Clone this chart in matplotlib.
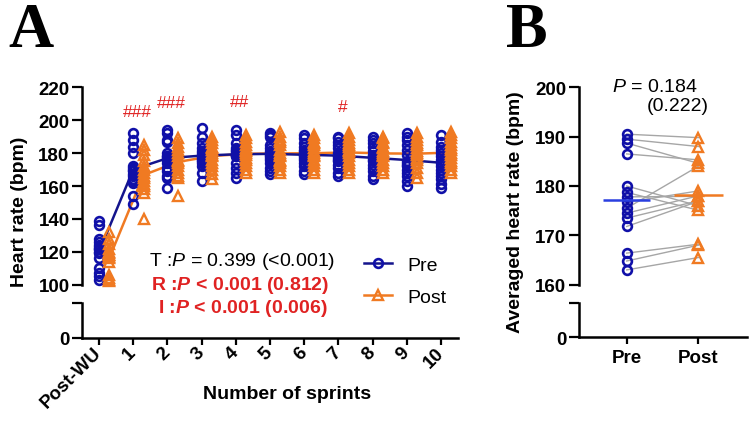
import numpy as np
import matplotlib
matplotlib.use('Agg')
import matplotlib.pyplot as plt
from matplotlib.lines import Line2D

plt.rcParams['font.family'] = ['Liberation Sans', 'DejaVu Sans']
plt.rcParams['mathtext.fontset'] = 'custom'
plt.rcParams['mathtext.it'] = 'Liberation Sans:italic'
plt.rcParams['mathtext.bf'] = 'Liberation Sans:bold'
plt.rcParams['mathtext.bfit'] = 'Liberation Sans:italic:bold'

# ---- data: panel A (heart rate per sprint, 15 participants) ----
sprint_labels = ['Post-WU', '1', '2', '3', '4', '5', '6', '7', '8', '9', '10']

pre_hr = [
    [139, 136, 128, 126, 124, 122, 123, 122, 120, 119, 116, 110, 107, 105, 103],
    [192, 188, 184, 180, 172, 171, 170, 169, 167, 166, 164, 163, 162, 154, 149],
    [194, 192, 188, 187, 180, 178, 177, 176, 178, 174, 171, 169, 166, 165, 159],
    [195, 190, 186, 183, 181, 180, 179, 178, 177, 176, 175, 174, 172, 168, 163],
    [194, 191, 186, 183, 182, 181, 180, 179, 178, 179, 178, 174, 171, 168, 165],
    [192, 191, 190, 185, 183, 181, 180, 179, 178, 177, 176, 174, 171, 169, 167],
    [191, 189, 186, 184, 182, 181, 180, 179, 178, 177, 176, 174, 172, 169, 167],
    [190, 189, 187, 185, 183, 180, 179, 178, 177, 176, 175, 173, 171, 168, 166],
    [190, 188, 186, 184, 181, 179, 178, 177, 176, 175, 173, 171, 169, 166, 164],
    [192, 190, 188, 185, 182, 179, 175, 173, 174, 172, 170, 168, 166, 163, 160],
    [191, 187, 184, 182, 180, 178, 176, 174, 172, 170, 168, 166, 164, 161, 159],
]
post_hr = [
    [132, 128, 125, 122, 120, 118, 119, 118, 117, 116, 114, 106, 104, 103, 102],
    [185, 182, 179, 175, 172, 170, 168, 166, 165, 163, 161, 160, 158, 156, 140],
    [189, 186, 184, 182, 180, 178, 176, 175, 174, 172, 170, 168, 166, 165, 154],
    [190, 188, 186, 184, 183, 182, 180, 179, 178, 176, 174, 172, 170, 167, 164],
    [191, 189, 187, 185, 183, 182, 181, 180, 179, 177, 176, 174, 172, 170, 168],
    [193, 190, 188, 187, 185, 182, 180, 179, 178, 176, 175, 174, 172, 170, 168],
    [191, 189, 187, 186, 185, 183, 181, 180, 179, 178, 176, 174, 172, 170, 168],
    [192, 190, 188, 186, 185, 184, 182, 181, 180, 178, 176, 174, 172, 170, 168],
    [190, 189, 187, 186, 184, 183, 181, 180, 179, 178, 176, 174, 172, 170, 168],
    [192, 190, 188, 186, 185, 183, 181, 180, 179, 177, 176, 174, 171, 168, 165],
    [193, 191, 189, 187, 185, 183, 182, 180, 179, 177, 175, 174, 172, 170, 168],
]

# significance marks (sprint index, label, y position)
hash_idx = [1, 2, 4, 7]
hash_txt = ['###', '###', '##', '#']
hash_y = [205, 210.5, 211.5, 208.5]

# ---- data: panel B (averaged heart rate, paired) ----
avg_pre = [190.5, 189.5, 188.7, 186.5, 180.0, 178.7, 177.8, 176.7, 175.5, 174.5, 173.5, 171.8, 166.4, 164.8, 163.0]
avg_post = [189.8, 188.0, 184.6, 185.3, 176.0, 175.1, 177.9, 179.0, 184.0, 178.0, 177.0, 176.9, 168.2, 168.0, 165.5]
group_labels = ['Pre', 'Post']

blue = '#1010A8'
blue_line = '#14148C'
blue_mean = '#2A3FE0'
orange = '#F07A22'
red = '#E02222'

W, H = 753, 427
fig = plt.figure(figsize=(W / 100, H / 100), dpi=100)


def box(l, t, r, b):
    return [l / W, 1 - b / H, (r - l) / W, (b - t) / H]


def style_top(ax):
    for s in ['top', 'right', 'bottom']:
        ax.spines[s].set_visible(False)
    ax.spines['left'].set_linewidth(1.8)
    ax.tick_params(axis='y', length=7, width=1.6, labelsize=13.5, pad=2)
    ax.tick_params(axis='x', bottom=False, labelbottom=False)
    for lab in ax.get_yticklabels():
        lab.set_fontweight('bold')


def style_bottom(ax):
    for s in ['top', 'right']:
        ax.spines[s].set_visible(False)
    ax.spines['left'].set_linewidth(1.8)
    ax.spines['bottom'].set_linewidth(1.8)
    ax.set_ylim(0, 100)
    ax.set_yticks([0, 100], ['0', ''])
    ax.tick_params(axis='y', length=7, width=1.6, labelsize=13.5, pad=2)
    ax.tick_params(axis='x', length=5, width=1.6, labelsize=13.5)
    for lab in ax.get_yticklabels() + ax.get_xticklabels():
        lab.set_fontweight('bold')


# ================= Panel A =================
axA = fig.add_axes(box(82, 88.3, 458, 285.7))
axA0 = fig.add_axes(box(82, 304, 458, 339))
x = np.arange(len(sprint_labels))
off = 0.3

for i in range(len(x)):
    axA.plot(np.full(len(pre_hr[i]), x[i]), pre_hr[i], 'o', ms=6.3, mfc='none',
             mec=blue, mew=1.9, clip_on=False, zorder=3)
    axA.plot(np.full(len(post_hr[i]), x[i] + off), post_hr[i], '^', ms=7, mfc='none',
             mec=orange, mew=1.7, clip_on=False, zorder=3)

axA.plot(x + off, [np.mean(v) for v in post_hr], color=orange, lw=1.8, zorder=2)
axA.plot(x, [np.mean(v) for v in pre_hr], color=blue_line, lw=1.8, zorder=2)

for i, t, yv in zip(hash_idx, hash_txt, hash_y):
    axA.text(x[i] + 0.12, yv, t, color=red, ha='center', va='center', fontsize=12.5)

axA.set_xlim(-0.5, 10.5)
axA.set_ylim(100, 220)
axA.set_yticks(np.arange(100, 221, 20))
style_top(axA)

axA0.set_xlim(-0.5, 10.5)
axA0.set_xticks(x, sprint_labels)
style_bottom(axA0)
for lab in axA0.get_xticklabels():
    lab.set_rotation(45)
    lab.set_ha('right')
    lab.set_va('center')
    lab.set_rotation_mode('anchor')

handles = [Line2D([], [], color=blue_line, lw=1.8, marker='o', ms=6.3, mfc='none', mec=blue, mew=1.9),
           Line2D([], [], color=orange, lw=1.8, marker='^', ms=7, mfc='none', mec=orange, mew=1.7)]
axA.legend(handles, ['Pre', 'Post'], loc='upper left', bbox_to_anchor=(364 / W, 1 - 257 / H),
           bbox_transform=fig.transFigure, frameon=False, fontsize=14, handlelength=1.45,
           handletextpad=0.8, labelspacing=0.75, borderpad=0, borderaxespad=0)

fig.text(242 / W, 1 - 262 / H, 'T :$\\mathit{P}$ = 0.399 (<0.001)', ha='center', va='center', fontsize=14)
fig.text(240 / W, 1 - 285.5 / H, 'R :$\\mathbfit{P}$ < 0.001 (0.812)', ha='center', va='center',
         fontsize=14, fontweight='bold', color=red)
fig.text(243 / W, 1 - 308.5 / H, 'I :$\\mathbfit{P}$ < 0.001 (0.006)', ha='center', va='center',
         fontsize=14, fontweight='bold', color=red)

fig.text(19.5 / W, 1 - 212 / H, 'Heart rate (bpm)', rotation=90, ha='center', va='center',
         fontsize=14, fontweight='bold')
fig.text(287 / W, 1 - 395 / H, 'Number of sprints', ha='center', va='center',
         fontsize=14, fontweight='bold')

# ================= Panel B =================
axB = fig.add_axes(box(579, 88.3, 746.7, 285.7))
axB0 = fig.add_axes(box(579, 304, 746.7, 338.3))

for a, b in zip(avg_pre, avg_post):
    axB.plot([0, 1], [a, b], color='#A6A6A6', lw=1.0, zorder=1)
axB.plot(np.zeros(len(avg_pre)), avg_pre, 'o', ms=6.3, mfc='none', mec=blue, mew=1.9, zorder=3)
axB.plot(np.ones(len(avg_post)), avg_post, '^', ms=7, mfc='none', mec=orange, mew=1.7, zorder=3)
axB.hlines(np.mean(avg_pre), -0.33, 0.33, color=blue_mean, lw=1.8, zorder=4)
axB.hlines(np.mean(avg_post), 1 - 0.34, 1 + 0.34, color=orange, lw=1.8, zorder=4)

axB.set_xlim(-0.666, 1.676)
axB.set_ylim(160, 200)
axB.set_yticks(np.arange(160, 201, 10))
style_top(axB)

axB0.set_xlim(-0.666, 1.676)
axB0.set_xticks([0, 1], group_labels)
style_bottom(axB0)

fig.text(612.5 / W, 1 - 87 / H, '$\\mathit{P}$ = 0.184', ha='left', va='center', fontsize=14)
fig.text(646.5 / W, 1 - 106.5 / H, '(0.222)', ha='left', va='center', fontsize=14)

fig.text(515.5 / W, 1 - 212 / H, 'Averaged heart rate (bpm)', rotation=90, ha='center', va='center',
         fontsize=14, fontweight='bold')

# panel letters
fig.text(8 / W, 1 - 47 / H, 'A', family=['Liberation Serif', 'DejaVu Serif'], fontweight='bold',
         fontsize=45, va='baseline', ha='left')
fig.text(506 / W, 1 - 47 / H, 'B', family=['Liberation Serif', 'DejaVu Serif'], fontweight='bold',
         fontsize=45, va='baseline', ha='left')

fig.savefig('out.png', dpi=100)
